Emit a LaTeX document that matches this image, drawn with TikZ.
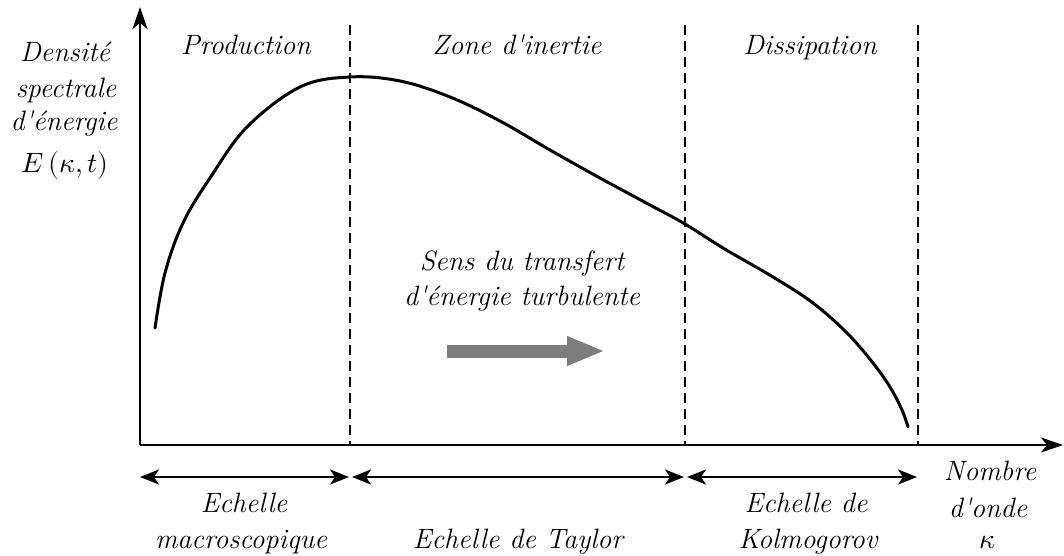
\documentclass[tikz,border=0pt]{standalone}
\usepackage{fontspec}
\usepackage{unicode-math}
\setmathfont{Latin Modern Math}
\usetikzlibrary{arrows.meta}
\definecolor{arrowgray}{RGB}{125,125,125}
\newcommand{\ap}{\textquotesingle}
\begin{document}
\begin{tikzpicture}[x=1pt,y=-1pt,
  lbl/.style={font=\fontsize{28}{30}\selectfont\itshape, inner sep=0pt, anchor=base},
  axisline/.style={line width=2.5pt, -{Stealth[length=22pt,width=15pt,inset=6pt]}},
  sepline/.style={line width=2pt, dash pattern=on 10pt off 6pt},
  rangearrow/.style={line width=2pt, {Stealth[length=19pt,width=15pt,inset=5pt]}-{Stealth[length=19pt,width=15pt,inset=5pt]}},
  spectrum/.style={line width=3pt, line join=round, line cap=round},
  flowarrow/.style={line width=13pt, draw=arrowgray, -{Triangle[length=38pt,width=27pt,fill=arrowgray]}},
]
\useasboundingbox (0,0) rectangle (1064,556);
% axes
\coordinate (O) at (140,445);
\coordinate (ytop) at (140,7);
\coordinate (xend) at (1063,445);
\draw[axisline] (O) -- (ytop);
\draw[axisline] (O) -- (xend);
% separators
\coordinate (s1t) at (350,25); \coordinate (s1b) at (350,445);
\coordinate (s2t) at (685,25); \coordinate (s2b) at (685,445);
\coordinate (s3t) at (918,25); \coordinate (s3b) at (918,445);
\draw[sepline] (s1t) -- (s1b);
\draw[sepline] (s2t) -- (s2b);
\draw[sepline] (s3t) -- (s3b);
% spectrum curve
\draw[spectrum] plot[smooth, tension=0.6] coordinates {
 (155,328) (165,273) (183,223) (210,178) (247,127) (300,87) (350,77)
 (400,81) (450,97) (500,121) (550,150) (600,178) (650,205) (685,224)
 (723,248) (773,277) (813,303) (847,333) (873,363) (890,387)
 (902,410) (908,427)};
% region titles
\node[lbl] (prod) at (246,55) {Production};
\node[lbl] (zone) at (517,55) {Zone d\ap inertie};
\node[lbl] (diss) at (810,55) {Dissipation};
% y label
\node[lbl] (yl1) at (65,62) {Densité};
\node[lbl] (yl2) at (66,98) {spectrale};
\node[lbl] (yl3) at (64,131) {d\ap énergie};
\node[lbl] (yl4) at (65,172) {$E\,(\kappa, t)$};
% transfer
\node[lbl] (tr1) at (522,270) {Sens du transfert};
\node[lbl] (tr2) at (522,305) {d\ap énergie turbulente};
\coordinate (ga1) at (447,351);
\coordinate (ga2) at (605,351);
\draw[flowarrow] (ga1) -- (ga2);
% range arrows
\coordinate (r0) at (140,477);
\coordinate (r1a) at (349,477); \coordinate (r1b) at (352,477);
\coordinate (r2a) at (684,477); \coordinate (r2b) at (687,477);
\coordinate (r3) at (917,477);
\draw[rangearrow] (r0) -- (r1a);
\draw[rangearrow] (r1b) -- (r2a);
\draw[rangearrow] (r2b) -- (r3);
% scale labels
\node[lbl] (e1) at (244,512) {Echelle};
\node[lbl] (e2) at (241,548) {macroscopique};
\node[lbl] (e3) at (518,548) {Echelle de Taylor};
\node[lbl] (e4) at (806,512) {Echelle de};
\node[lbl] (e5) at (808,548) {Kolmogorov};
\node[lbl] (n1) at (990,480) {Nombre};
\node[lbl] (n2) at (988,517) {d\ap onde};
\node[lbl] (n3) at (988,548) {$\kappa$};
\end{tikzpicture}
\end{document}
